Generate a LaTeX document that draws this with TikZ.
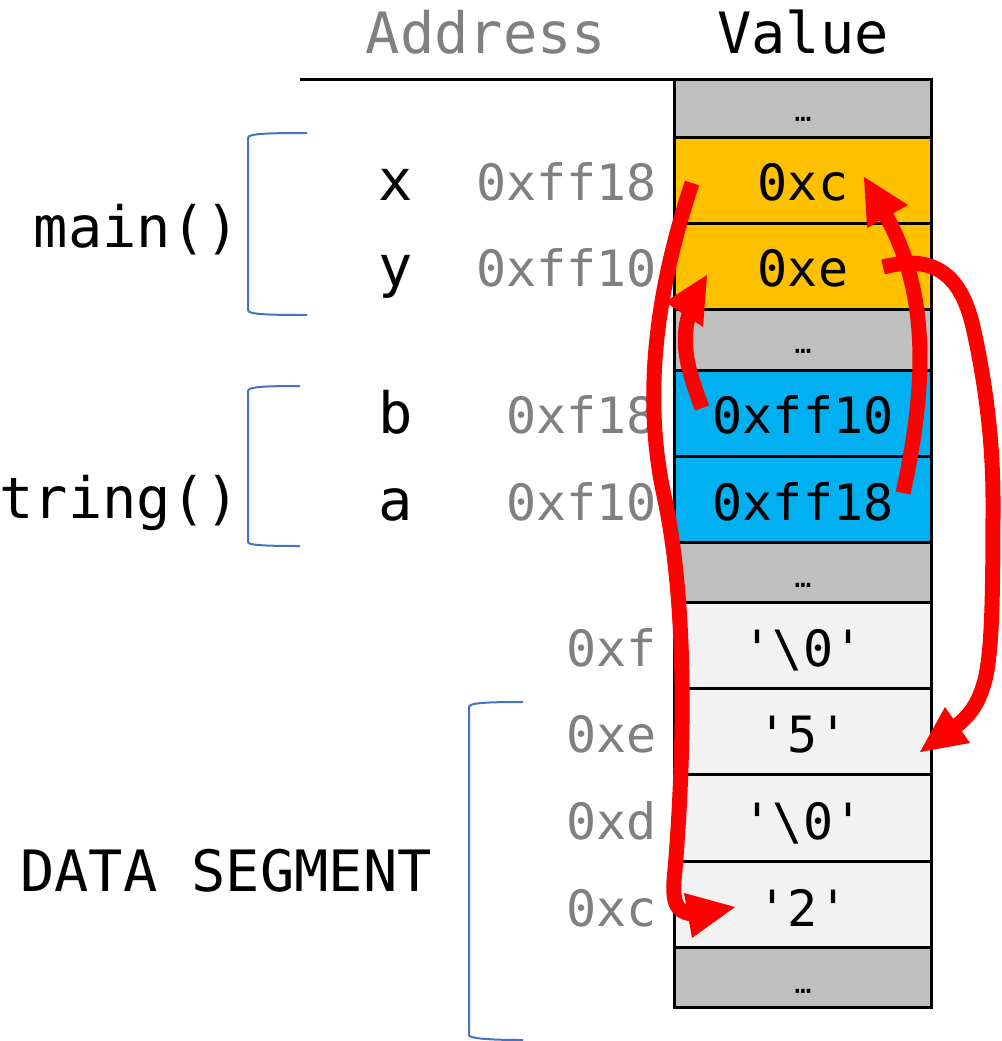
\documentclass[tikz,border=0pt]{standalone}
\usepackage{fontspec}
\setmonofont{DejaVu Sans Mono}
\definecolor{cellgray}{HTML}{BFBFBF}
\definecolor{cellorange}{HTML}{FFC000}
\definecolor{cellblue}{HTML}{00B0F0}
\definecolor{celllight}{HTML}{F2F2F2}
\definecolor{addrgray}{HTML}{808080}
\definecolor{brblue}{HTML}{4472C4}
\definecolor{arrred}{HTML}{FF0000}
\tikzset{
  cellbox/.style={draw=black, line width=3pt},
  valtxt/.style={anchor=base, inner sep=0pt, font=\ttfamily\fontsize{50}{60}\selectfont},
  addrtxt/.style={anchor=base east, inner sep=0pt, text=addrgray, font=\ttfamily\fontsize{50}{60}\selectfont},
  nametxt/.style={anchor=base, inner sep=0pt, font=\ttfamily\fontsize{57}{68}\selectfont},
  bigtxt/.style={inner sep=0pt, font=\ttfamily\fontsize{57}{68}\selectfont},
  dotstxt/.style={anchor=base, inner sep=0pt, font=\ttfamily\fontsize{28}{34}\selectfont},
  bracket/.style={draw=brblue, line width=2pt},
  redshaft/.style={draw=arrred, line width=15pt},
  redhead/.style={fill=arrred},
}
\begin{document}
\begin{tikzpicture}[x=1pt,y=-1pt]
\useasboundingbox (0,0) rectangle (1001,1041);
% header
\node[bigtxt, anchor=base, text=addrgray] (hAddr) at (486,54) {Address};
\node[bigtxt, anchor=base] (hVal) at (803,54) {Value};
\draw[line width=3pt] (300,79) -- (674,79);
% table cells
\def\L{674}\def\R{931}
\foreach \ya/\yb/\col/\nm in {79/137/cellgray/r0, 137/223/cellorange/r1, 223/309/cellorange/r2, 309/370/cellgray/r3, 370/456/cellblue/r4, 456/542/cellblue/r5, 542/602/cellgray/r6, 602/688/celllight/r7, 688/774/celllight/r8, 774/861/celllight/r9, 861/947/celllight/r10, 947/1007/cellgray/r11}{
  \filldraw[cellbox, fill=\col] (\L,\ya) rectangle (\R,\yb);
  \coordinate (\nm) at (802.5,{(\ya+\yb)/2});
}
% dots
\node[dotstxt] (d0) at (803,121) {…};
\node[dotstxt] (d3) at (803,353) {…};
\node[dotstxt] (d6) at (803,587) {…};
\node[dotstxt] (d11) at (803,993) {…};
% values
\node[valtxt] (vx) at (803,200) {0xc};
\node[valtxt] (vy) at (803,286) {0xe};
\node[valtxt] (vb) at (803,433) {0xff10};
\node[valtxt] (va) at (803,520) {0xff18};
\node[valtxt] (vf) at (803,666) {'\textbackslash0'};
\node[valtxt] (ve) at (803,752) {'5'};
\node[valtxt] (vd) at (803,839) {'\textbackslash0'};
\node[valtxt] (vc) at (803,926) {'2'};
% addresses
\node[addrtxt] (ax) at (657,200) {0xff18};
\node[addrtxt] (ay) at (657,286) {0xff10};
\node[addrtxt] (ab) at (657,433) {0xf18};
\node[addrtxt] (aa) at (657,520) {0xf10};
\node[addrtxt] (af) at (657,666) {0xf};
\node[addrtxt] (ae) at (657,752) {0xe};
\node[addrtxt] (ad) at (657,839) {0xd};
\node[addrtxt] (ac) at (657,926) {0xc};
% names
\node[nametxt] (nx) at (396,200) {x};
\node[nametxt] (ny) at (396,286) {y};
\node[nametxt] (nb) at (396,433) {b};
\node[nametxt] (na) at (396,520) {a};
% group labels
\node[bigtxt, anchor=base east] (gmain) at (240,247) {main()};
\node[bigtxt, anchor=base east] (gswap) at (240,518) {tring()};
\node[bigtxt, anchor=base] (gdata) at (226,891) {DATA SEGMENT};
% brackets
\draw[bracket] (307,133) .. controls (262,133) and (248,134) .. (248,138) -- (248,310) .. controls (248,314) and (262,315) .. (307,315);
\draw[bracket] (300,386) .. controls (262,386) and (248,387) .. (248,391) -- (248,542) .. controls (248,545) and (262,546) .. (300,546);
\draw[bracket] (523,702) .. controls (484,702) and (469,703) .. (469,707) -- (469,1035) .. controls (469,1038) and (484,1040) .. (523,1040);
% red arrows: tails, tips
\coordinate (t1) at (692,183);
\coordinate (h1) at (735,907);
\coordinate (t2) at (702,408);
\coordinate (h2) at (665,302);
\coordinate (t3) at (903,493);
\coordinate (h3) at (864,177);
\coordinate (t4) at (883,267);
\coordinate (h4) at (920,752);
% arrow 1: x -> '2'
\draw[redshaft] (t1) .. controls (660,280) and (640,390) .. (665,500) .. controls (688,610) and (684,760) .. (675,870) .. controls (671,905) and (676,915) .. (700,914);
\fill[redhead] (h1) -- (684,893) -- (692,938) -- cycle;
% arrow 2: b -> y
\draw[redshaft] (t2) .. controls (688,370) and (678,340) .. (692,306);
\fill[redhead] (h2) -- (707,275) -- (703,327) -- cycle;
% arrow 3: a -> x
\draw[redshaft] (t3) .. controls (928,380) and (928,290) .. (885,214);
\fill[redhead] (h3) -- (867,228) -- (908,205) -- cycle;
% arrow 4: y -> '5'
\draw[redshaft] (t4) .. controls (930,255) and (960,270) .. (973,327) .. controls (985,380) and (993,440) .. (993,500) .. controls (993,600) and (992,650) .. (985,680) .. controls (978,705) and (970,715) .. (955,727);
\fill[redhead] (h4) -- (945,707) -- (970,743) -- cycle;
\end{tikzpicture}
\end{document}
